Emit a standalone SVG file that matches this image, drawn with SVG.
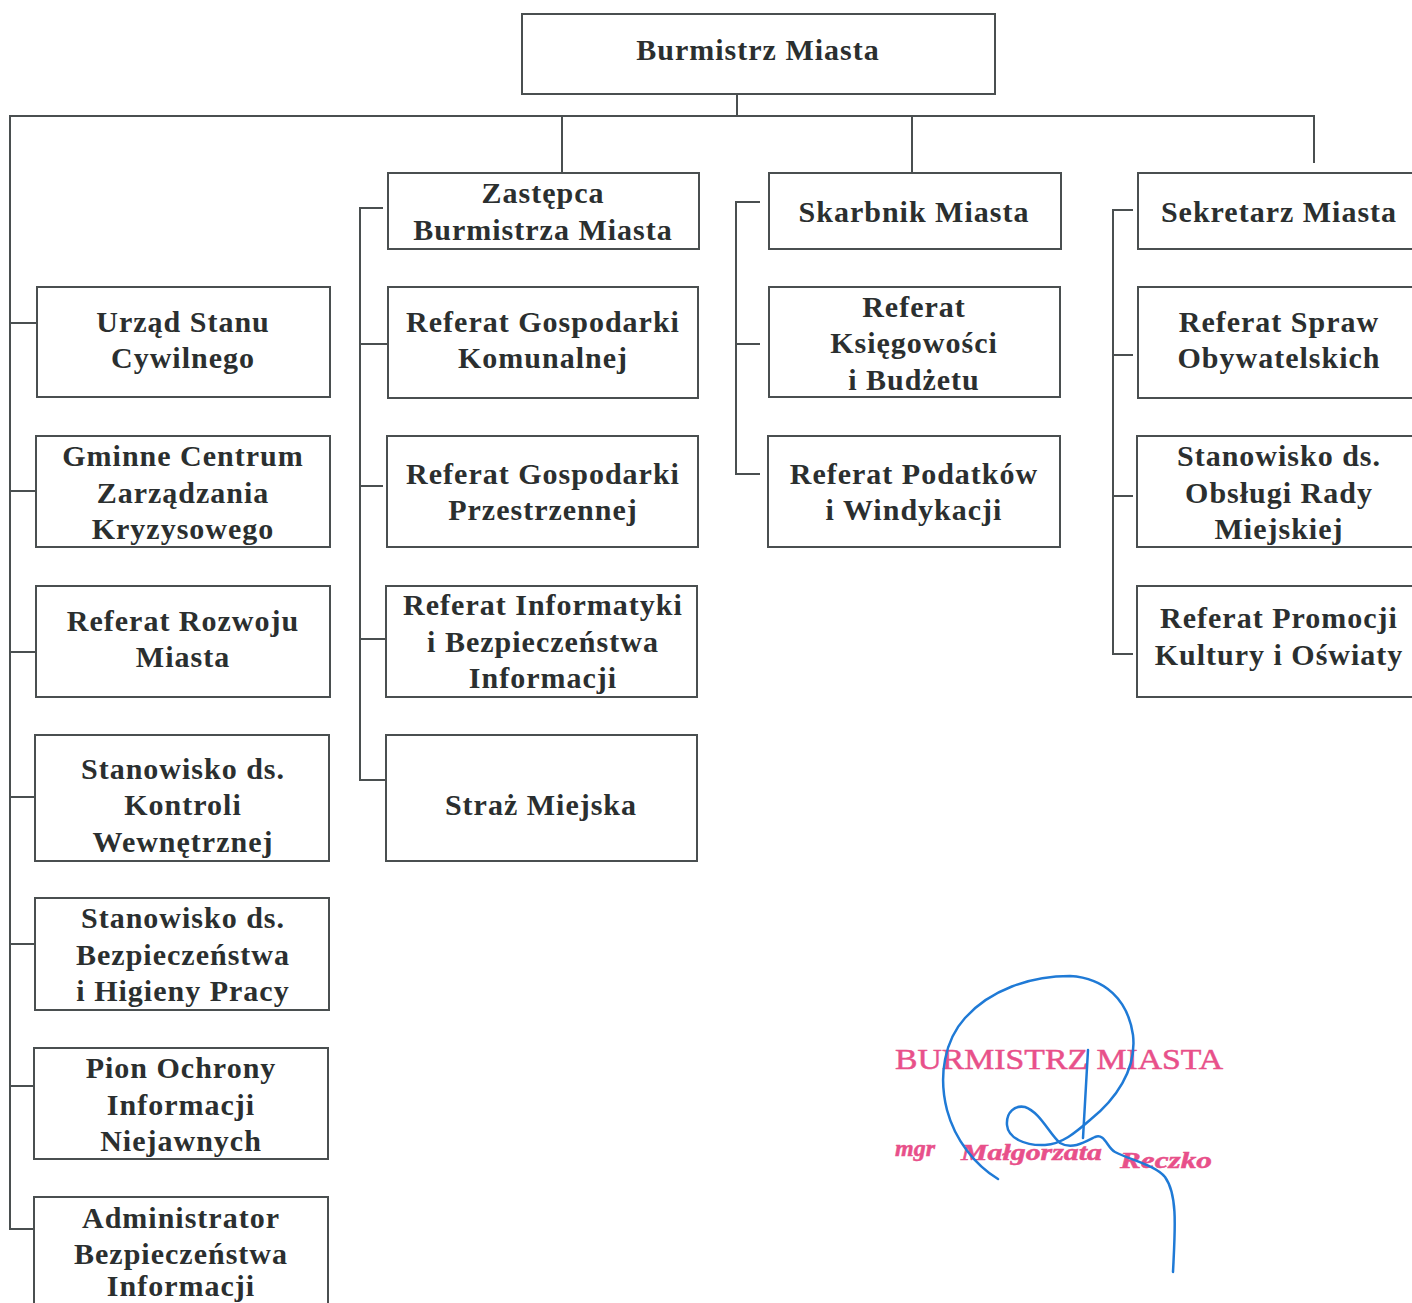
<svg xmlns="http://www.w3.org/2000/svg" width="1412" height="1303" viewBox="0 0 1412 1303">
<style>
.b{fill:#fff;stroke:#4a4f50;stroke-width:2}
.c{fill:none;stroke:#4a4f50;stroke-width:2}
.t{font-family:"Liberation Serif","Times New Roman",serif;font-weight:bold;font-size:30px;letter-spacing:1px;fill:#2b2f2f;text-anchor:middle}
.s{font-family:"Liberation Serif","Times New Roman",serif;fill:#e8508a;stroke:#e8508a;stroke-width:0.5}
.sig{fill:none;stroke:#1f7ad6;stroke-width:2.5;stroke-linecap:round;stroke-linejoin:round}
</style>
<rect width="1412" height="1303" fill="#fff"/>
<g id="connectors">
<path class="c" d="M737,94 V116"/>
<path class="c" d="M34,1229 H10 V116 H1314 V163"/>
<path class="c" d="M562,116 V173 M912,116 V173"/>
<path class="c" d="M10,323 H37 M10,491 H36 M10,652 H36 M10,797 H35 M10,944 H35 M10,1086 H34"/>
<path class="c" d="M383,208 H360 V780 H386 M360,344 H388 M360,486 H383 M360,639 H386"/>
<path class="c" d="M760,202 H736 V474 H760 M736,344 H760"/>
<path class="c" d="M1133,210 H1113 V654 H1133 M1113,355 H1133 M1113,496 H1133"/>
</g>
<g id="burmistrz"><rect class="b" x="522" y="14" width="473" height="80"/><text class="t" x="758" y="60">Burmistrz Miasta</text></g>
<g id="zastepca"><rect class="b" x="388" y="173" width="311" height="76"/><text class="t" x="543" y="203">Zastępca</text><text class="t" x="543" y="240">Burmistrza Miasta</text></g>
<g id="skarbnik"><rect class="b" x="769" y="173" width="292" height="76"/><text class="t" x="914" y="222">Skarbnik Miasta</text></g>
<g id="sekretarz"><rect class="b" x="1138" y="173" width="290" height="76"/><text class="t" x="1279" y="222">Sekretarz Miasta</text></g>
<g id="usc"><rect class="b" x="37" y="287" width="293" height="110"/><text class="t" x="183" y="332">Urząd Stanu</text><text class="t" x="183" y="368">Cywilnego</text></g>
<g id="rgk"><rect class="b" x="388" y="287" width="310" height="111"/><text class="t" x="543" y="332">Referat Gospodarki</text><text class="t" x="543" y="368">Komunalnej</text></g>
<g id="rkb"><rect class="b" x="769" y="287" width="291" height="110"/><text class="t" x="914" y="317">Referat</text><text class="t" x="914" y="353">Księgowości</text><text class="t" x="914" y="390">i  Budżetu</text></g>
<g id="rso"><rect class="b" x="1138" y="287" width="290" height="111"/><text class="t" x="1279" y="332">Referat Spraw</text><text class="t" x="1279" y="368">Obywatelskich</text></g>
<g id="gczk"><rect class="b" x="36" y="436" width="294" height="111"/><text class="t" x="183" y="466">Gminne Centrum</text><text class="t" x="183" y="503">Zarządzania</text><text class="t" x="183" y="539">Kryzysowego</text></g>
<g id="rgp"><rect class="b" x="387" y="436" width="311" height="111"/><text class="t" x="543" y="484">Referat Gospodarki</text><text class="t" x="543" y="520">Przestrzennej</text></g>
<g id="rpw"><rect class="b" x="768" y="436" width="292" height="111"/><text class="t" x="914" y="484">Referat Podatków</text><text class="t" x="914" y="520">i Windykacji</text></g>
<g id="sorm"><rect class="b" x="1137" y="436" width="291" height="111"/><text class="t" x="1279" y="466">Stanowisko ds.</text><text class="t" x="1279" y="503">Obsługi Rady</text><text class="t" x="1279" y="539">Miejskiej</text></g>
<g id="rrm"><rect class="b" x="36" y="586" width="294" height="111"/><text class="t" x="183" y="631">Referat Rozwoju</text><text class="t" x="183" y="667">Miasta</text></g>
<g id="ribi"><rect class="b" x="386" y="586" width="311" height="111"/><text class="t" x="543" y="615">Referat Informatyki</text><text class="t" x="543" y="652">i Bezpieczeństwa</text><text class="t" x="543" y="688">Informacji</text></g>
<g id="rpko"><rect class="b" x="1137" y="586" width="291" height="111"/><text class="t" x="1279" y="628">Referat Promocji</text><text class="t" x="1279" y="665">Kultury i Oświaty</text></g>
<g id="skw"><rect class="b" x="35" y="735" width="294" height="126"/><text class="t" x="183" y="779">Stanowisko ds.</text><text class="t" x="183" y="815">Kontroli</text><text class="t" x="183" y="852">Wewnętrznej</text></g>
<g id="sm"><rect class="b" x="386" y="735" width="311" height="126"/><text class="t" x="541" y="815">Straż Miejska</text></g>
<g id="sbhp"><rect class="b" x="35" y="898" width="294" height="112"/><text class="t" x="183" y="928">Stanowisko ds.</text><text class="t" x="183" y="965">Bezpieczeństwa</text><text class="t" x="183" y="1001">i Higieny Pracy</text></g>
<g id="poin"><rect class="b" x="34" y="1048" width="294" height="111"/><text class="t" x="181" y="1078">Pion Ochrony</text><text class="t" x="181" y="1115">Informacji</text><text class="t" x="181" y="1151">Niejawnych</text></g>
<g id="abi"><rect class="b" x="34" y="1197" width="294" height="130"/><text class="t" x="181" y="1228">Administrator</text><text class="t" x="181" y="1264">Bezpieczeństwa</text><text class="t" x="181" y="1296">Informacji</text></g>
<g id="stamp">
<text class="s" x="895" y="1069" font-size="30" textLength="328" lengthAdjust="spacingAndGlyphs">BURMISTRZ MIASTA</text>
<text class="s" x="895" y="1156" font-size="24" font-style="italic" font-weight="bold">mgr</text>
<text class="s" x="961" y="1160" font-size="24" font-style="italic" font-weight="bold" textLength="141" lengthAdjust="spacingAndGlyphs">Małgorzata</text>
<text class="s" x="1120" y="1168" font-size="24" font-style="italic" font-weight="bold" textLength="92" lengthAdjust="spacingAndGlyphs">Reczko</text>
<path class="sig" d="M998,1179 C975,1165 955,1140 947,1110 C938,1075 945,1040 965,1018 C990,990 1030,976 1070,976 C1105,978 1128,1000 1133,1035 C1137,1070 1115,1100 1090,1120 C1075,1133 1062,1144 1045,1145 C1025,1146 1008,1138 1007,1125 C1006,1112 1015,1105 1025,1107 C1040,1112 1050,1135 1060,1143 C1072,1150 1085,1142 1095,1137 C1105,1133 1107,1148 1115,1152 C1130,1160 1155,1165 1165,1177 C1178,1195 1175,1230 1173,1272"/>
<path class="sig" d="M1088,1050 L1083,1138"/>
</g>
</svg>
